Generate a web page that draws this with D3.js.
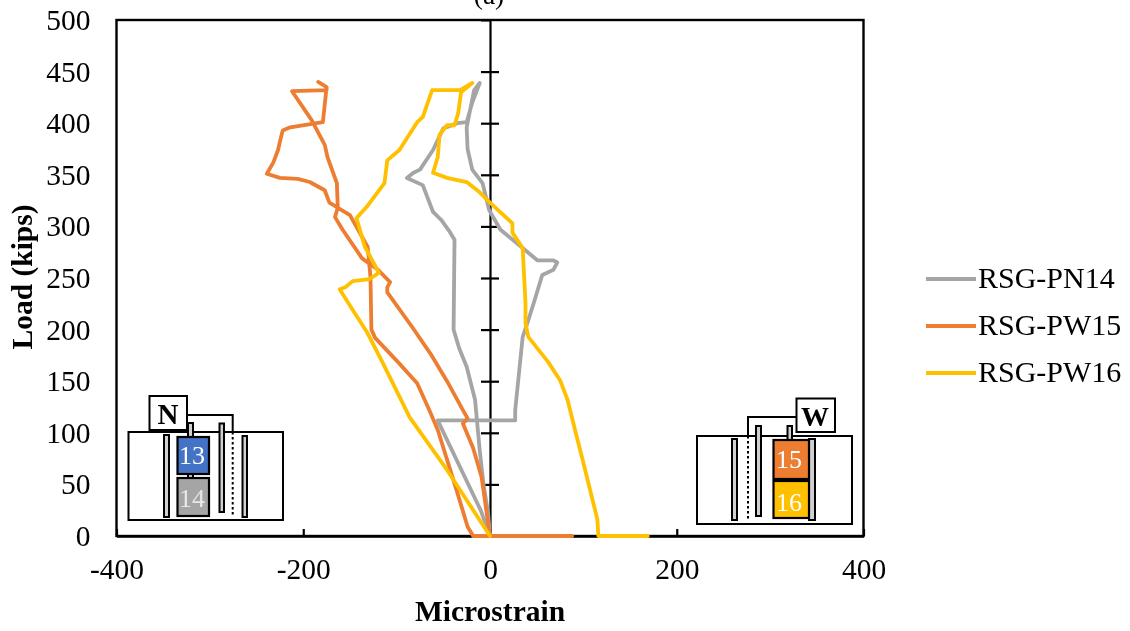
<!DOCTYPE html>
<html><head><meta charset="utf-8">
<script src="https://cdn.jsdelivr.net/npm/d3@7/dist/d3.min.js"></script>
<style>html,body{margin:0;padding:0;background:#fff}svg{display:block;filter:blur(0.35px)}text{font-family:"Liberation Serif",serif}</style>
</head><body><svg id="c" width="1130" height="631"></svg>
<script>
const xTicks=[-400,-200,0,200,400];
const yTicks=[0,50,100,150,200,250,300,350,400,450,500];
const seriesNames=["RSG-PN14","RSG-PW15","RSG-PW16"];
const seriesColors=["#A5A5A5","#ED7D31","#FFC000"];
const pn14Strain=[0,-2,-7,-11,-16,-25,-33,-39,-38,-44,-52,-61,-72,-89,-82,-75,-61,-50,-35,-25,-19,-11,-17,-25,-24,-19,-8,-1,11,35,51,68,72,68,56,49,41,35,27,27,-56,-10,0];
const pn14Load=[0,22,50,83,132,164,182,200,287,296,306,314,340,347,352,355,374,395,400,401,420,439,432,396,375,355,342,316,297,279,267,267,265,258,253,232,209,193,122,112,112,25,0];
const pw15Strain=[0,-9,-18,-29,-24,-29,-46,-64,-83,-110,-110,-107,-120,-137,-158,-166,-163,-164,-174,-177,-191,-212,-175,-175,-184,-175,-179,-214,-222,-225,-227,-232,-239,-225,-206,-193,-177,-172,-150,-131,-128,-127,-123,-99,-78,-66,-56,-35,-24,-18,88];
const pw15Load=[0,57,85,109,114,122,150,177,202,236,241,246,258,269,297,309,318,342,367,379,403,431,432,435,440,435,401,396,393,382,374,362,351,347,346,343,335,323,311,280,251,200,192,169,148,124,103,42,9,0,0];
const pw16Strain=[0,-46,-86,-115,-132,-147,-161,-155,-147,-129,-119,-129,-134,-143,-132,-113,-110,-97,-78,-72,-62,-32,-19,-31,-34,-38,-46,-54,-56,-61,-46,-25,-11,0,24,24,35,38,38,41,62,75,83,91,100,115,116,169];
const pw16Load=[0,64,115,168,198,219,239,241,247,249,255,272,280,308,319,342,364,374,401,406,432,432,439,430,410,398,398,389,367,352,347,343,333,323,303,294,279,226,206,193,169,151,132,103,71,16,0,0];
const series=[[pn14Strain,pn14Load],[pw15Strain,pw15Load],[pw16Strain,pw16Load]];

const svg=d3.select("#c");
const x=d3.scaleLinear().domain([-400,400]).range([116.5,863.5]);
const y=d3.scaleLinear().domain([0,500]).range([536,20]);
const fs=29.5;

svg.append("rect").attr("x",x(-400)).attr("y",y(500)).attr("width",x(400)-x(-400)).attr("height",y(0)-y(500))
  .attr("fill","none").attr("stroke","#000").attr("stroke-width",2.4);

const xa=svg.append("g").attr("transform",`translate(0,${y(0)})`)
  .call(d3.axisBottom(x).tickValues(xTicks).tickSizeInner(-7).tickSizeOuter(0).tickPadding(36).tickFormat(d=>String(d)));
xa.select(".domain").attr("stroke","#000").attr("stroke-width",2.4);
xa.selectAll("line").attr("stroke","#000").attr("stroke-width",2.2);
xa.selectAll("text").attr("font-size",fs).attr("fill","#000").attr("font-family","Liberation Serif").attr("dy","0em").attr("dominant-baseline","middle");

const ya=svg.append("g").attr("transform",`translate(${x(-400)},0)`)
  .call(d3.axisLeft(y).tickValues(yTicks).tickSize(0).tickPadding(26));
ya.select(".domain").remove();
ya.selectAll("text").attr("font-size",fs).attr("fill","#000").attr("font-family","Liberation Serif");

const z=svg.append("g").attr("transform",`translate(${x(0)},0)`)
  .call(d3.axisLeft(y).tickValues(yTicks.slice(1,-1)).tickSize(9).tickFormat(""));
z.select(".domain").attr("stroke","#000").attr("stroke-width",2.2);
z.selectAll(".tick line").attr("x2",9).attr("x1",-9).attr("stroke","#000").attr("stroke-width",2.2);

const line=d3.line().x(d=>x(d[0])).y(d=>y(d[1]));
series.forEach((s,i)=>{
  svg.append("path").datum(d3.zip(s[0],s[1])).attr("d",line).attr("fill","none")
    .attr("stroke",seriesColors[i]).attr("stroke-width",3.8).attr("stroke-linejoin","round").attr("stroke-linecap","round");
});

svg.append("text").attr("x",489).attr("y",4).attr("text-anchor","middle").attr("font-size",fs-2).text("(a)");
svg.append("text").attr("x",490).attr("y",621).attr("text-anchor","middle").attr("font-size",fs).attr("font-weight","bold").text("Microstrain");
svg.append("text").attr("transform","translate(32,277) rotate(-90)").attr("text-anchor","middle").attr("font-size",fs).attr("font-weight","bold").text("Load (kips)");

const legendY=[279,326,373];
seriesNames.forEach((n,i)=>{
  svg.append("line").attr("x1",926).attr("x2",976).attr("y1",legendY[i]).attr("y2",legendY[i]).attr("stroke",seriesColors[i]).attr("stroke-width",4);
  svg.append("text").attr("x",978).attr("y",legendY[i]+9).attr("font-size",fs+0.5).text(n);
});

function box(a,b,c,d,fill,sw){svg.append("rect").attr("x",a).attr("y",c).attr("width",b-a).attr("height",d-c).attr("fill",fill).attr("stroke","#000").attr("stroke-width",sw);}
function seg(p,dash){svg.append("path").attr("d",d3.line()(p)).attr("fill","none").attr("stroke","#000").attr("stroke-width",2).attr("stroke-dasharray",dash||null);}
const barFill="#d0d0d0";
box(128.5,283,432,520,"#fff",2);
box(164,169,435,517,barFill,2);
box(188,193,423,437,barFill,2);
box(219.5,224,423.5,512,barFill,2);
seg([[232.7,432],[232.7,517]],"2.5 2.5");
seg([[187,415],[232.7,415],[232.7,432]]);
box(242.5,247,436,517,barFill,2);
box(188,193,470,480,barFill,2);
box(177.5,209,437,474,"#4472C4",2.2);
box(177.5,209,478,516,"#A5A5A5",2.2);
box(149.5,187,396,430,"#fff",2);
box(697,852,436,524,"#fff",2);
box(732,737,439,520,barFill,2);
seg([[748,436],[748,520]],"2.5 2.5");
seg([[748,436],[748,417],[796,417]]);
box(756,761,426,516,barFill,2);
box(787.5,792,426,440,barFill,2);
box(809,815,439,520,barFill,2);
box(773.5,809,440,479,"#ED7D31",2.2);
box(773.5,809,481,518,"#FFC000",2.2);
svg.append("rect").attr("x",773).attr("y",478.5).attr("width",36).attr("height",3.5).attr("fill","#000");
box(796.5,835,398.5,432,"#fff",2);

function label(t,px,py,fsz,col,w){svg.append("text").attr("x",px).attr("y",py).attr("text-anchor","middle").attr("font-size",fsz).attr("fill",col).attr("font-weight",w||"normal").text(t);}
label("13",192,464,26,"#fff");
label("14",192,507,26,"#e8e8e8");
label("15",789,468,26,"#fff");
label("16",789,511,26,"#fff");
label("N",168,424,29,"#000","bold");
label("W",815,426,28,"#000","bold");
</script></body></html>
